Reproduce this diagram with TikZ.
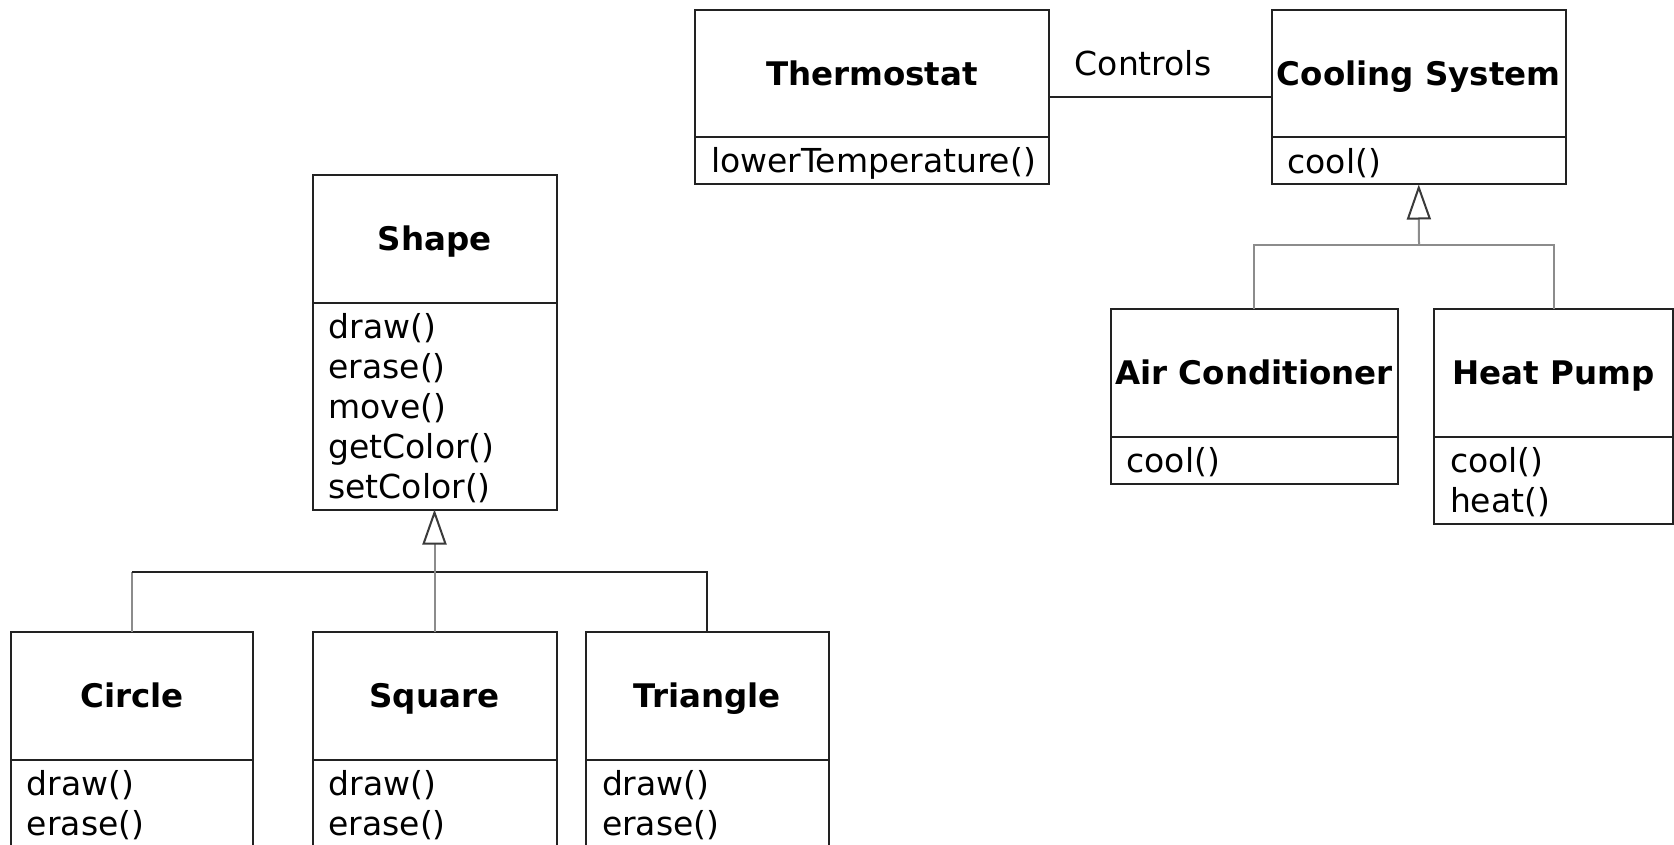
\documentclass[tikz,border=0pt]{standalone}
\usepackage{fontspec}
\setmainfont{DejaVu Sans}
\usetikzlibrary{arrows.meta}
\definecolor{ink}{HTML}{222222}
\definecolor{conngray}{HTML}{8C8C8C}
\definecolor{tipgray}{HTML}{3A3A3A}
\tikzset{
  namebox/.style={draw=ink, line width=2pt, anchor=north west, inner sep=0pt, outer sep=0pt,
    minimum height=127.5pt, text height=23.7pt, text depth=0pt,
    font=\fontsize{32.5}{39}\selectfont\bfseries},
  opsbox/.style={draw=ink, line width=2pt, anchor=north west, inner xsep=16pt, outer sep=0pt,
    inner ysep=0pt, align=left, font=\fontsize{33}{40}\selectfont,
    execute at begin node={\rule{0pt}{29pt}}},
  graylink/.style={draw=conngray, line width=2pt},
  darklink/.style={draw=ink, line width=2pt},
  genarrow/.style={-{Triangle[open, length=35pt, width=24pt, color=tipgray]}},
  lbl/.style={inner sep=0pt, font=\fontsize{33}{40}\selectfont},
}
\begin{document}
\begin{tikzpicture}[x=1pt, y=-1pt]
\clip (0,0) rectangle (1674,845);
\fill[white] (0,0) rectangle (1674,845);

% Thermostat / Cooling System
\node[namebox, minimum width=354pt] (thermo) at (695,10) {Thermostat};
\node[opsbox, minimum width=354pt, text width=322pt, minimum height=47pt] (thermoops) at (thermo.south west) {lowerTemperature()};
\node[namebox, minimum width=294.5pt] (cool) at (1271.5,10) {Cooling System};
\node[opsbox, minimum width=294.5pt, text width=262.5pt, minimum height=47pt] (coolops) at (cool.south west) {cool()};

\draw[darklink] ([yshift=-23.25pt]thermo.east) -- ([yshift=-23.25pt]cool.west);
\node[lbl] (controls) at (1143,63) {Controls};

% Air Conditioner / Heat Pump
\node[namebox, minimum width=287pt] (ac) at (1110.5,309) {Air Conditioner};
\node[opsbox, minimum width=287pt, text width=255pt, minimum height=47pt] (acops) at (ac.south west) {cool()};
\node[namebox, minimum width=239pt] (hp) at (1434,309) {Heat Pump};
\node[opsbox, minimum width=239pt, text width=207pt, minimum height=87pt] (hpops) at (hp.south west) {cool()\\heat()};

\coordinate (coolhub) at (1419,245.5);
\draw[graylink] (ac.north) |- (coolhub) -| (hp.north);
\draw[graylink, genarrow] (coolhub) -- (coolops.south);

% Shape hierarchy
\node[namebox, minimum width=244pt] (shape) at (312.5,175) {Shape};
\node[opsbox, minimum width=244pt, text width=212pt, minimum height=207pt] (shapeops) at (shape.south west)
  {draw()\\erase()\\move()\\getColor()\\setColor()};

\node[namebox, minimum width=242pt] (circle) at (11,632) {Circle};
\node[opsbox, minimum width=242pt, text width=210pt, minimum height=87pt] (circleops) at (circle.south west) {draw()\\erase()};
\node[namebox, minimum width=244pt] (square) at (312.5,632) {Square};
\node[opsbox, minimum width=244pt, text width=212pt, minimum height=87pt] (squareops) at (square.south west) {draw()\\erase()};
\node[namebox, minimum width=242.5pt] (triangle) at (586,632) {Triangle};
\node[opsbox, minimum width=242.5pt, text width=210.5pt, minimum height=87pt] (triangleops) at (triangle.south west) {draw()\\erase()};

\coordinate (shapehub) at (434.5,572);
\draw[graylink] (circle.north) -- (circle.north |- shapehub);
\draw[darklink] (circle.north |- shapehub) -- (triangle.north |- shapehub) -- (triangle.north);
\draw[graylink, genarrow] (square.north) -- (shapeops.south);
\end{tikzpicture}
\end{document}
